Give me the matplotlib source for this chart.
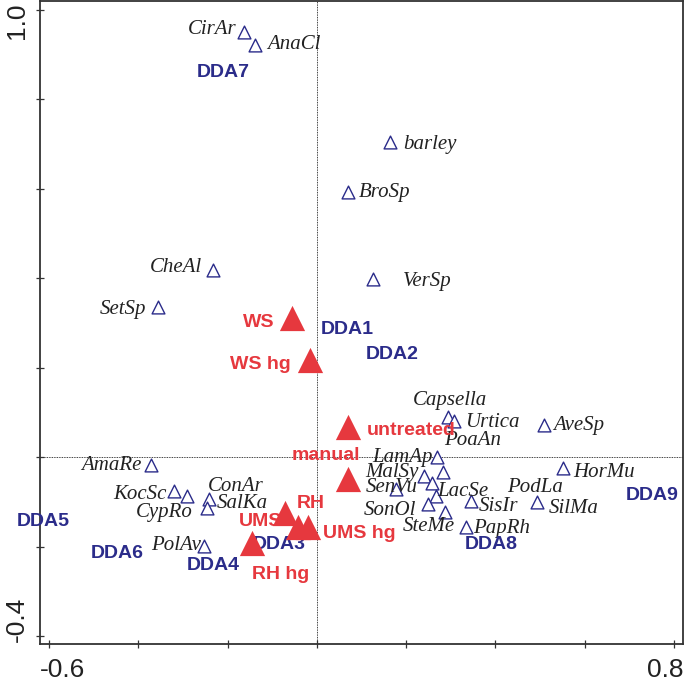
"""
DDA ordination biplot: species (open triangles), treatments (red filled
triangles) and DDA group centroids (bold navy labels).
"""
import matplotlib

matplotlib.use("Agg")
import matplotlib.pyplot as plt
import numpy as np
from matplotlib.transforms import ScaledTranslation

plt.rcParams["font.family"] = ["Liberation Sans", "DejaVu Sans"]

NAVY = "#2b2c8a"
RED = "#e6383e"
SPECIES_TEXT = "#222222"

# ── species scores ───────────────────────────────────────────────
SPECIES_NAMES = [
    "CirAr", "AnaCl", "CheAl", "SetSp", "barley", "BroSp", "VerSp",
    "AmaRe", "KocSc", "CypRo", "ConAr", "SalKa", "PolAv",
    "Capsella", "Urtica", "PoaAn", "AveSp", "LamAp", "MalSy", "SenVu",
    "PodLa", "LacSe", "SonOl", "SteMe", "SisIr", "PapRh", "SilMa", "HorMu",
]
SPECIES_X = [
    -0.164, -0.139, -0.233, -0.356, 0.164, 0.069, 0.125,
    -0.372, -0.320, -0.291, -0.242, -0.246, -0.253,
    0.293, 0.307, 0.282, 0.509, 0.269, 0.240, 0.177,
    0.258, 0.267, 0.249, 0.287, 0.345, 0.334, 0.493, 0.551,
]
SPECIES_Y = [
    0.951, 0.922, 0.418, 0.336, 0.705, 0.593, 0.398,
    -0.018, -0.076, -0.087, -0.094, -0.114, -0.199,
    0.089, 0.081, -0.034, 0.072, 0.000, -0.043, -0.072,
    -0.058, -0.087, -0.105, -0.123, -0.098, -0.157, -0.101, -0.025,
]

# ── treatments ───────────────────────────────────────────────────
TREATMENT_NAMES = ["WS", "WS hg", "untreated", "manual", "UMS", "RH", "UMS hg", "RH hg"]
TREATMENT_X = [-0.056, -0.016, 0.069, 0.069, -0.072, -0.043, -0.020, -0.146]
TREATMENT_Y = [0.311, 0.217, 0.067, -0.049, -0.125, -0.157, -0.157, -0.192]

# ── DDA groups ───────────────────────────────────────────────────
GROUP_NAMES = ["DDA1", "DDA2", "DDA3", "DDA4", "DDA5", "DDA6", "DDA7", "DDA8", "DDA9"]
GROUP_X = [0.067, 0.168, -0.085, -0.231, -0.612, -0.446, -0.210, 0.390, 0.750]
GROUP_Y = [0.286, 0.230, -0.195, -0.242, -0.145, -0.215, 0.859, -0.195, -0.087]

# label placement: (dx, dy) in pixels, horizontal alignment
SPECIES_LABEL_POS = {
    "CirAr": (-7, 2, "right"), "AnaCl": (12, 0, "left"),
    "CheAl": (-11, 3, "right"), "SetSp": (-12, -3, "right"),
    "barley": (13, -3, "left"), "BroSp": (11, -1, "left"),
    "VerSp": (30, -2, "left"), "AmaRe": (-9, 0, "right"),
    "KocSc": (-7, -3, "right"), "CypRo": (6, -17, "right"),
    "ConAr": (-1, 13, "left"), "SalKa": (10, 5, "left"),
    "PolAv": (-3, 1, "right"), "Capsella": (2, 17, "center"),
    "Urtica": (11, -2, "left"), "PoaAn": (1, 32, "left"),
    "AveSp": (9, -1, "left"), "LamAp": (-4, 0, "right"),
    "MalSy": (-5, 4, "right"), "SenVu": (-30, 2, "left"),
    "PodLa": (75, -4, "left"), "LacSe": (1, 4, "left"),
    "SonOl": (-12, -6, "right"), "SteMe": (10, -14, "right"),
    "SisIr": (8, -6, "left"), "PapRh": (7, -1, "left"),
    "SilMa": (12, -6, "left"), "HorMu": (10, -4, "left"),
}
TREATMENT_LABEL_POS = {
    "WS": (-17, -4, "right"), "WS hg": (-19, -4, "right"),
    "untreated": (19, -3, "left"), "manual": (-22, 24, "center"),
    "UMS": (-2, -9, "right"), "RH": (-1, 24, "left"),
    "UMS hg": (15, -6, "left"), "RH hg": (0, -32, "left"),
}


def shift(label, fig, dx_px, dy_px):
    """Move a tick label by a few pixels."""
    label.set_transform(label.get_transform()
                        + ScaledTranslation(dx_px / fig.dpi, dy_px / fig.dpi,
                                            fig.dpi_scale_trans))


def main():
    fig = plt.figure(figsize=(6.85, 6.89), dpi=100)
    ax = fig.add_axes([40 / 685, 45 / 689, 643 / 685, 643 / 689])
    ax.set_xlim(-0.620, 0.820)
    ax.set_ylim(-0.418, 1.020)

    # dotted reference lines through the origin
    ax.axhline(0, color="black", lw=0.6, ls=(0, (1, 1)), zorder=1)
    ax.axvline(0, color="black", lw=0.6, ls=(0, (1, 1)), zorder=1)

    # species
    ax.scatter(SPECIES_X, SPECIES_Y, marker="^", s=85, facecolors="white",
               edgecolors=NAVY, linewidths=1.0, zorder=3)
    for name, x, y in zip(SPECIES_NAMES, SPECIES_X, SPECIES_Y):
        dx, dy, ha = SPECIES_LABEL_POS[name]
        ax.annotate(name, (x, y), xytext=(dx, dy), textcoords="offset pixels",
                    ha=ha, va="center", fontsize=15, fontstyle="italic",
                    family=["Liberation Serif", "DejaVu Serif"],
                    color=SPECIES_TEXT, zorder=4)

    # treatments
    ax.scatter(TREATMENT_X, TREATMENT_Y, marker="^", s=330, color=RED,
               linewidths=0, zorder=5)
    for name, x, y in zip(TREATMENT_NAMES, TREATMENT_X, TREATMENT_Y):
        dx, dy, ha = TREATMENT_LABEL_POS[name]
        ax.annotate(name, (x, y), xytext=(dx, dy), textcoords="offset pixels",
                    ha=ha, va="center", fontsize=14, fontweight="bold",
                    color=RED, zorder=6)

    # DDA group labels
    for name, x, y in zip(GROUP_NAMES, GROUP_X, GROUP_Y):
        ax.text(x, y, name, ha="center", va="center", fontsize=14,
                fontweight="bold", color=NAVY, zorder=4, clip_on=False)

    # axes: full box, small crossing ticks, only end values labelled
    xticks = np.round(np.arange(-0.6, 0.81, 0.2), 1)
    yticks = np.round(np.arange(-0.4, 1.01, 0.2), 1)
    ax.set_xticks(xticks)
    ax.set_yticks(yticks)
    ax.set_xticklabels(["-0.6"] + [""] * (len(xticks) - 2) + ["0.8"])
    ax.set_yticklabels(["-0.4"] + [""] * (len(yticks) - 2) + ["1.0"], rotation=90)
    ax.tick_params(axis="both", direction="inout", length=6, width=0.9,
                   color="#333333", labelsize=19, labelcolor="#222222")
    ax.tick_params(axis="x", pad=7)
    ax.tick_params(axis="y", pad=5)
    for spine in ax.spines.values():
        spine.set_color("#333333")
        spine.set_linewidth(1.3)

    # end labels sit flush with the axes box, as in the original
    xl = ax.get_xticklabels()
    xl[0].set_ha("left")
    shift(xl[0], fig, -9, 0)
    xl[-1].set_ha("right")
    shift(xl[-1], fig, 9, 0)
    yl = ax.get_yticklabels()
    yl[0].set_va("bottom")
    shift(yl[0], fig, 0, -6)
    yl[-1].set_va("top")
    shift(yl[-1], fig, 0, 7)

    fig.savefig("out.png", dpi=100)


if __name__ == "__main__":
    main()
